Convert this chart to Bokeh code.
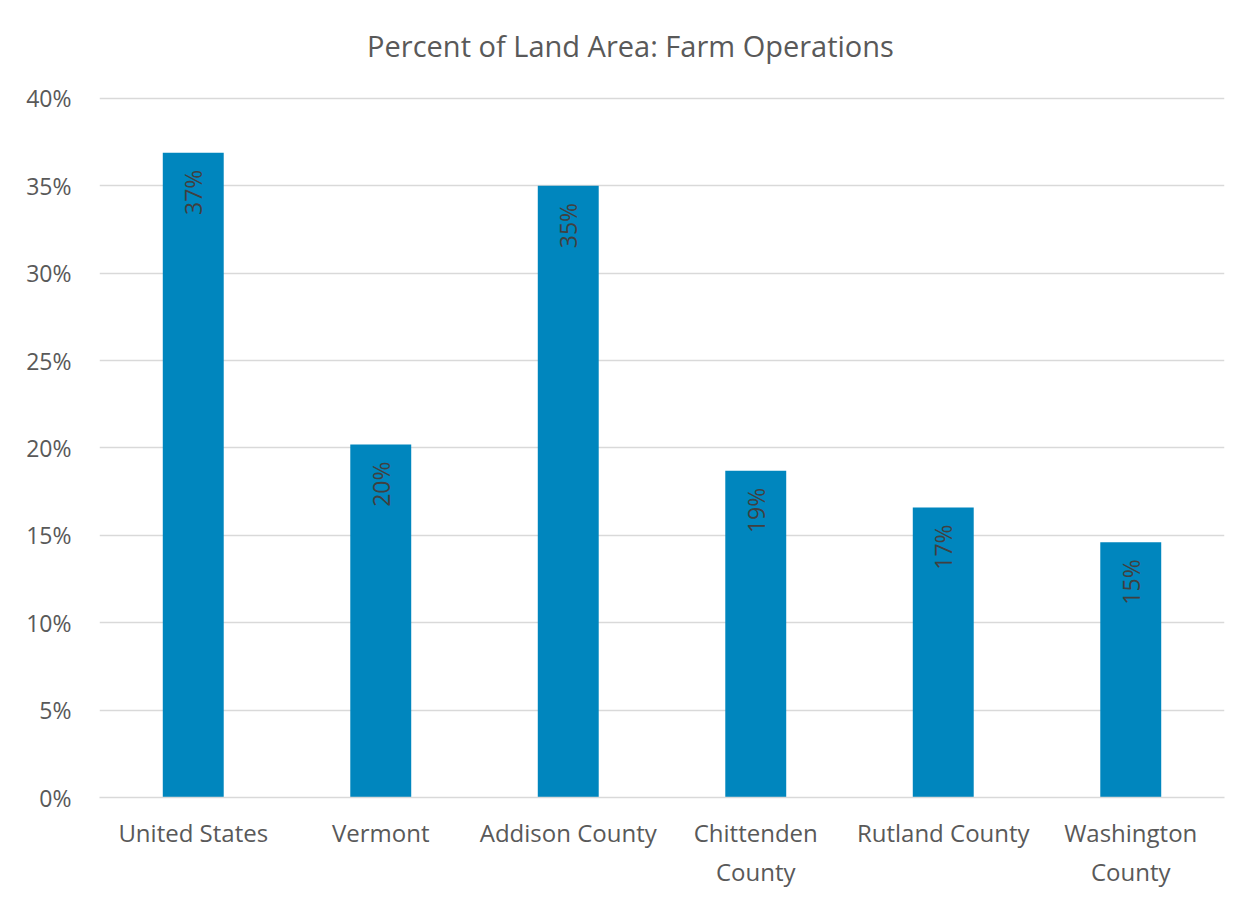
import math
from bokeh.plotting import figure
from bokeh.models import ColumnDataSource, NumeralTickFormatter, FixedTicker, Label, Range1d
from bokeh.core.properties import value
from bokeh.embed import file_html
from bokeh.resources import INLINE

categories = ["United States", "Vermont", "Addison County", "Chittenden\nCounty", "Rutland County", "Washington\nCounty"]
percent = [0.369, 0.202, 0.350, 0.187, 0.166, 0.146]
labels = ["37%", "20%", "35%", "19%", "17%", "15%"]
y_ticks = [0.0, 0.05, 0.10, 0.15, 0.20, 0.25, 0.30, 0.35, 0.40]
title_text = "Percent of Land Area: Farm Operations"

FONT = "Open Sans"
GREY = "#595959"

src = ColumnDataSource(dict(cat=categories, val=percent, lab=labels))

# frame extends above the 40% line so the title can sit inside it
p = figure(x_range=categories, y_range=Range1d(0, 0.4452), width=1252, height=899,
           output_backend="svg", toolbar_location=None,
           min_border_left=99, min_border_right=28, min_border_top=19, min_border_bottom=102)
p.title.visible = False

p.add_layout(Label(x=2.832, y=0.4303, text=title_text,
                   text_align="center", text_baseline="middle", text_font=FONT,
                   text_font_size="29px", text_color=GREY))

p.vbar(x="cat", top="val", width=0.325, source=src, color="#0086BE", line_color=None)

p.text(x="cat", y="val", text="lab", source=src, angle=math.pi / 2,
       text_align="right", text_baseline="middle", y_offset=17,
       text_font=value(FONT), text_font_size="23px", text_color="#404040")

p.outline_line_color = None
p.xgrid.grid_line_color = None
p.ygrid.grid_line_color = "#d9d9d9"
p.ygrid.grid_line_width = 1.5

p.yaxis.ticker = FixedTicker(ticks=y_ticks)
p.yaxis.formatter = NumeralTickFormatter(format="0%")
p.yaxis.axis_line_color = None
p.yaxis.major_tick_line_color = None
p.yaxis.minor_tick_line_color = None
p.yaxis.major_label_standoff = 22
p.yaxis.major_label_text_font = FONT
p.yaxis.major_label_text_font_size = "23px"
p.yaxis.major_label_text_color = GREY

p.xaxis.axis_line_color = "#d9d9d9"
p.xaxis.axis_line_width = 1.5
p.xaxis.major_tick_line_color = None
p.xaxis.minor_tick_line_color = None
p.xaxis.major_label_standoff = 12
p.xaxis.major_label_text_font = FONT
p.xaxis.major_label_text_font_size = "24px"
p.xaxis.major_label_text_color = GREY
p.x_range.range_padding = 0

open("out.html", "w").write(file_html(p, INLINE))
